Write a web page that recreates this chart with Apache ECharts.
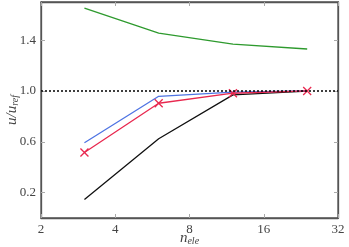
<!DOCTYPE html>
<html><head><meta charset="utf-8">
<script src="https://cdn.jsdelivr.net/npm/echarts@6/dist/echarts.min.js"></script>
<style>html,body{margin:0;padding:0;background:#fff}#c{width:349px;height:247px}</style>
</head><body><div id="c"></div>
<script>
var xValues = [3, 6, 12, 24];
var greenSeries = [1.651, 1.455, 1.369, 1.33];
var blueSeries = [0.592, 0.958, 0.99, 1.0];
var redSeries = [0.516, 0.903, 0.982, 1.0];
var blackSeries = [0.145, 0.624, 0.969, 0.998];
var refValue = 1.0;
var yTickLabels = [0.2, 0.6, 1.0, 1.4];
var xTickLabels = [2, 4, 8, 16, 32];

function pairs(ys){ return xValues.map(function(x,i){return [x, ys[i]];}); }
var font = 'Liberation Serif';
var frame = {show:true, onZero:false, lineStyle:{color:'#555', width:1.3}};
var chart = echarts.init(document.getElementById('c'), null, {renderer:'canvas'});
chart.setOption({
  animation:false,
  grid:{left:41, right:11, top:2, bottom:29, containLabel:false, outerBoundsMode:'none',
    show:true, borderColor:'#555', borderWidth:1.3, backgroundColor:'transparent'},
  xAxis:[{
    type:'log', logBase:2, min:2, max:32,
    axisLine:frame, splitLine:{show:false},
    axisTick:{show:true, inside:true, length:4, lineStyle:{color:'#aaa'}},
    axisLabel:{color:'#444', fontFamily:font, fontSize:13, margin:5,
      customValues: xTickLabels, formatter:function(v){return String(Math.round(v));}},
    name:'{i|n}{s|ele}', nameLocation:'middle', nameGap:12, nameMoveOverlap:false,
    nameTextStyle:{rich:{i:{fontFamily:font, fontStyle:'italic', fontSize:15, color:'#444'},
      s:{fontFamily:font, fontStyle:'italic', fontSize:10, color:'#444', verticalAlign:'bottom', padding:[6,0,0,0]}}}
  },{
    type:'log', logBase:2, min:2, max:32, position:'top',
    axisLine:frame, splitLine:{show:false}, axisLabel:{show:false},
    axisTick:{show:true, inside:true, length:4, lineStyle:{color:'#aaa'}, customValues: xTickLabels}
  }],
  yAxis:[{
    type:'value', min:0, max:1.7,
    axisLine:frame, splitLine:{show:false},
    axisTick:{show:true, inside:true, length:4, lineStyle:{color:'#aaa'}, customValues: yTickLabels},
    axisLabel:{color:'#444', fontFamily:font, fontSize:13, margin:5, customValues: yTickLabels,
      formatter:function(v){return v.toFixed(1);}},
    name:'{i|u/u}{s|ref}', nameLocation:'middle', nameGap:21, nameRotate:90, nameMoveOverlap:false,
    nameTextStyle:{rich:{i:{fontFamily:font, fontStyle:'italic', fontSize:15, color:'#444'},
      s:{fontFamily:font, fontStyle:'italic', fontSize:10, color:'#444', padding:[6,0,0,0]}}}
  },{
    type:'value', min:0, max:1.7, position:'right',
    axisLine:frame, splitLine:{show:false}, axisLabel:{show:false},
    axisTick:{show:true, inside:true, length:4, lineStyle:{color:'#aaa'}, customValues: yTickLabels}
  }],
  series:[
    {type:'line', data:pairs(greenSeries), showSymbol:false, symbol:'none', lineStyle:{color:'#2e9a2e', width:1.3}, itemStyle:{color:'#2e9a2e'}},
    {type:'line', data:pairs(blackSeries), symbol:'none', lineStyle:{color:'#111', width:1.3}, itemStyle:{color:'#111'}},
    {type:'line', data:pairs(blueSeries), symbol:'none', lineStyle:{color:'#4f74e3', width:1.3}, itemStyle:{color:'#4f74e3'}},
    {type:'line', data:pairs(redSeries), symbol:'path://M0,0L10,10M10,0L0,10', symbolSize:8, showSymbol:true,
      lineStyle:{color:'#e8284f', width:1.3},
      itemStyle:{color:'none', borderColor:'#e8284f', borderWidth:1.3}},
    {type:'line', xAxisIndex:1, yAxisIndex:1, data:[], symbol:'none',
      markLine:{silent:true, symbol:'none', label:{show:false},
      lineStyle:{color:'#000', type:[2,2], width:1.5},
      data:[{yAxis:refValue}]}}
  ]
});
</script></body></html>
